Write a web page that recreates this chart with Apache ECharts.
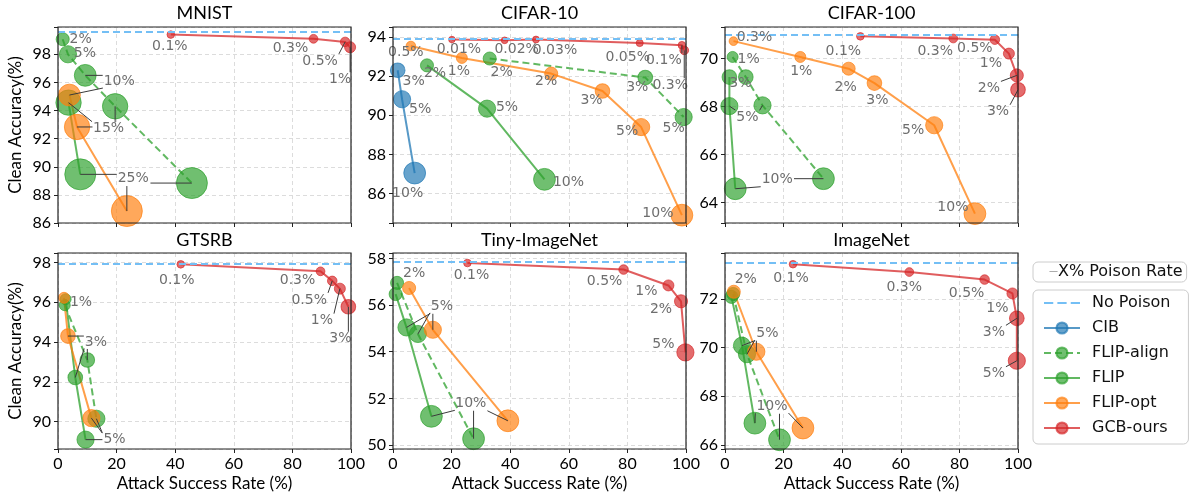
<!DOCTYPE html>
<html>
<head>
<meta charset="utf-8">
<script src="https://cdn.jsdelivr.net/npm/echarts@6/dist/echarts.min.js"></script>
<style>
  html, body { margin: 0; padding: 0; background: #fff; }
  #main { width: 1192px; height: 494px; }
</style>
</head>
<body>
<div id="main"></div>
<script>
const chart = echarts.init(document.getElementById('main'));

const datasets = ['MNIST', 'CIFAR-10', 'CIFAR-100', 'GTSRB', 'Tiny-ImageNet', 'ImageNet'];
const methods = ['CIB', 'FLIP-align', 'FLIP', 'FLIP-opt', 'GCB-ours'];
const noPoison = [99.6, 93.9, 71.0, 97.95, 57.85, 73.5];

// each point: [attack success rate, clean accuracy, poison rate in %]
const mnistAlign = [[1.6, 99.07, 2], [3.4, 98.0, 5], [9.3, 96.5, 10], [19.5, 94.3, 15], [45.7, 88.84, 25]];
const mnistFlip = [[3.6, 94.56, 15], [7.6, 89.46, 25]];
const mnistOpt = [[3.9, 95.1, 10], [6.5, 92.83, 15], [23.5, 86.85, 25]];
const mnistGcb = [[38.5, 99.4, 0.1], [87.2, 99.1, 0.3], [98.0, 98.88, 0.5], [99.7, 98.5, 1]];

const c10Cib = [[1.6, 92.3, 3], [3.1, 90.82, 5], [7.4, 87.05, 10]];
const c10Align = [[33.0, 92.9, 2], [86.1, 91.93, 3], [99.2, 89.91, 5]];
const c10Flip = [[11.6, 92.55, 2], [32.1, 90.34, 5], [51.7, 86.73, 10]];
const c10Opt = [[6.1, 93.54, 0.5], [23.5, 92.93, 1], [54.0, 92.13, 2], [71.5, 91.24, 3], [84.7, 89.4, 5], [98.6, 84.9, 10]];
const c10Gcb = [[20.1, 93.87, 0.01], [38.1, 93.83, 0.02], [48.8, 93.87, 0.03], [84.2, 93.69, 0.05], [98.6, 93.58, 0.1], [99.4, 93.32, 0.3]];

const c100Align = [[2.6, 70.07, 1], [7.1, 69.23, 3], [12.8, 68.05, 5], [33.6, 64.99, 10]];
const c100Flip = [[1.5, 69.23, 3], [1.5, 68.02, 5], [3.5, 64.57, 10]];
const c100Opt = [[2.9, 70.73, 0.3], [25.7, 70.07, 1], [42.2, 69.58, 2], [51.0, 68.98, 3], [71.4, 67.22, 5], [85.3, 63.53, 10]];
const c100Gcb = [[46.2, 70.93, 0.1], [77.9, 70.84, 0.3], [92.1, 70.79, 0.5], [96.9, 70.21, 1], [99.6, 69.3, 2], [100, 68.7, 3]];

const gtAlign = [[2.3, 95.85, 1], [10.0, 93.1, 3], [13.1, 90.15, 5]];
const gtFlip = [[2.6, 96.15, 1], [5.9, 92.22, 3], [9.4, 89.1, 5]];
const gtOpt = [[2.05, 96.22, 1], [3.4, 94.3, 3], [11.4, 90.18, 5]];
const gtGcb = [[41.9, 97.9, 0.1], [89.6, 97.55, 0.3], [93.6, 97.07, 0.5], [96.2, 96.68, 1], [99.1, 95.77, 3]];

const tinyAlign = [[1.4, 56.95, 2], [8.5, 54.76, 5], [27.5, 50.27, 10]];
const tinyFlip = [[0.9, 56.47, 2], [4.6, 55.04, 5], [13.1, 51.23, 10]];
const tinyOpt = [[5.5, 56.73, 2], [13.6, 54.94, 5], [39.2, 51.04, 10]];
const tinyGcb = [[25.4, 57.8, 0.1], [78.7, 57.52, 0.5], [94.0, 56.84, 1], [98.3, 56.16, 2], [99.8, 53.97, 5]];

const inAlign = [[2.8, 72.2, 2], [7.5, 69.73, 5], [18.6, 66.22, 10]];
const inFlip = [[2.2, 72.08, 2], [5.8, 70.08, 5], [10.2, 66.9, 10]];
const inOpt = [[3.0, 72.29, 2], [10.7, 69.83, 5], [26.6, 66.7, 10]];
const inGcb = [[23.2, 73.42, 0.1], [62.9, 73.1, 0.3], [88.6, 72.79, 0.5], [98.1, 72.22, 1], [99.6, 71.2, 3], [99.6, 69.46, 5]];

const yMin = [86, 84.5, 63.14, 88.63, 49.83, 65.84];
const yMax = [99.94, 94.51, 71.32, 98.47, 58.23, 73.88];

const panels = [
  { 'FLIP-align': mnistAlign, 'FLIP': mnistFlip, 'FLIP-opt': mnistOpt, 'GCB-ours': mnistGcb },
  { 'CIB': c10Cib, 'FLIP-align': c10Align, 'FLIP': c10Flip, 'FLIP-opt': c10Opt, 'GCB-ours': c10Gcb },
  { 'FLIP-align': c100Align, 'FLIP': c100Flip, 'FLIP-opt': c100Opt, 'GCB-ours': c100Gcb },
  { 'FLIP-align': gtAlign, 'FLIP': gtFlip, 'FLIP-opt': gtOpt, 'GCB-ours': gtGcb },
  { 'FLIP-align': tinyAlign, 'FLIP': tinyFlip, 'FLIP-opt': tinyOpt, 'GCB-ours': tinyGcb },
  { 'FLIP-align': inAlign, 'FLIP': inFlip, 'FLIP-opt': inOpt, 'GCB-ours': inGcb }
];

// label placement per point: [dx px, dy px, draw text, draw leader line]
const labelSpots = [
  {
    'FLIP-align': [[18, 0, 1, 0], [17, -1, 1, 0], [34, 6, 1, 1], [-7, 23, 0, 1], [-58, -4, 0, 1]],
    'FLIP': [[40, 26, 1, 1], [53, 4, 1, 1]],
    'FLIP-opt': [[50, -14, 0, 1], [32, 2, 0, 1], [7, -32, 0, 1]],
    'GCB-ours': [[-1, 12, 1, 0], [-23, 10, 1, 0], [-25, 19, 1, 1], [-10, 32, 1, 1]]
  },
  {
    'CIB': [[16, 11, 1, 0], [18, 10, 1, 0], [-7, 20, 1, 0]],
    'FLIP-align': [[12, 14, 1, 0], [-8, 10, 1, 0], [-10, 11, 1, 0]],
    'FLIP': [[8, 8, 1, 0], [20, -1, 1, 0], [24, 3, 1, 0]],
    'FLIP-opt': [[-5, 6, 1, 0], [-3, 13, 1, 0], [-5, 8, 1, 0], [-11, 9, 1, 0], [-14, 4, 1, 0], [-24, -2, 1, 0]],
    'GCB-ours': [[7, 10, 1, 0], [12, 9, 1, 0], [19, 11, 1, 0], [-12, 14, 1, 0], [-18, 15, 1, 1], [-14, 35, 1, 1]]
  },
  {
    'FLIP-align': [[16, 2, 1, 0], [-6, 6, 0, 0], [-15, 12, 0, 1], [-46, 1, 0, 1]],
    'FLIP': [[11, 6, 1, 0], [18, 11, 1, 1], [42, -9, 1, 1]],
    'FLIP-opt': [[21, -4, 1, 0], [1, 14, 1, 0], [-3, 19, 1, 0], [3, 17, 1, 0], [-21, 5, 1, 0], [-22, -6, 1, 0]],
    'GCB-ours': [[-17, 15, 1, 0], [-18, 13, 1, 0], [-20, 9, 1, 0], [-18, 10, 1, 0], [-28, 13, 1, 1], [-20, 22, 1, 1]]
  },
  {
    'FLIP-align': [null, [9, -18, 0, 1], [18, 21, 0, 1]],
    'FLIP': [null, [21, -36, 0, 1], [29, 0, 1, 1]],
    'FLIP-opt': [[17, 5, 1, 0], [28, 6, 1, 1], [23, 22, 0, 1]],
    'GCB-ours': [[-4, 16, 1, 0], [-23, 9, 1, 0], [-23, 19, 1, 1], [-18, 32, 1, 1], [-8, 32, 1, 1]]
  },
  {
    'FLIP-align': [null, [24, -28, 0, 1], [-2, -35, 0, 1]],
    'FLIP': [null, [36, -21, 0, 1], [40, -13, 0, 1]],
    'FLIP-opt': [[5, -15, 1, 0], [9, -23, 1, 1], [-37, -17, 1, 1]],
    'GCB-ours': [[4, 12, 1, 0], [-19, 12, 1, 0], [-22, 6, 1, 0], [-20, 8, 1, 0], [-22, -8, 1, 0]]
  },
  {
    'FLIP-align': [null, [20, -21, 0, 1], [-7, -33, 0, 1]],
    'FLIP': [null, [25, -12, 0, 1], [17, -17, 0, 1]],
    'FLIP-opt': [[12, -12, 1, 0], [11, -18, 1, 1], [-31, -22, 1, 1]],
    'GCB-ours': [[-2, 14, 1, 0], [-5, 15, 1, 0], [-18, 14, 1, 0], [-15, 15, 1, 0], [-23, 14, 1, 1], [-23, 13, 1, 1]]
  }
];

const colors = { 'CIB': '#1f77b4', 'FLIP-align': '#2ca02c', 'FLIP': '#2ca02c', 'FLIP-opt': '#ff7f0e', 'GCB-ours': '#d62728' };
const npColor = '#74bff5';
const gridLeft = [58, 393, 725, 58, 393, 725];
const gridTop = [27, 27, 27, 253, 253, 253];
const gridW = 293, gridH = 196;
const axisFont = 'Lato';
const labelFont = '14px "DejaVu Sans"';

const measureCtx = document.createElement('canvas').getContext('2d');
measureCtx.font = labelFont;
const textWidth = (s) => measureCtx.measureText(s).width;

const isTick = (v) => Math.abs(v / 2 - Math.round(v / 2)) < 1e-6;

annotationSeries = (i) => {
  const items = [];
  methods.forEach((m) => {
    const pts = panels[i][m];
    const spots = labelSpots[i][m];
    if (!pts || !spots) return;
    pts.forEach((p, k) => {
      if (spots[k]) items.push({ value: [p[0], p[1]], text: p[2] + '%', spot: spots[k] });
    });
  });
  return {
    type: 'custom',
    xAxisIndex: i,
    yAxisIndex: i,
    silent: true,
    z: 10,
    data: items.map((a) => a.value),
    renderItem: (params, api) => {
      const a = items[params.dataIndex];
      const p = api.coord([api.value(0), api.value(1)]);
      const cx = p[0] + a.spot[0];
      const cy = p[1] + a.spot[1];
      const w = textWidth(a.text) / 2 + 1;
      const h = 7;
      const children = [];
      if (a.spot[3]) {
        const ex = Math.min(Math.max(p[0], cx - w), cx + w);
        const ey = Math.min(Math.max(p[1], cy - h), cy + h);
        children.push({
          type: 'line',
          shape: { x1: p[0], y1: p[1], x2: ex, y2: ey },
          style: { stroke: '#3a3a3a', lineWidth: 1 }
        });
      }
      if (a.spot[2]) {
        children.push({
          type: 'text',
          x: cx,
          y: cy,
          style: {
            text: a.text, fill: '#6e6e6e', font: labelFont,
            align: 'center', verticalAlign: 'middle',
            textAlign: 'center', textVerticalAlign: 'middle'
          }
        });
      }
      return { type: 'group', children };
    }
  };
}

const grids = [], xAxes = [], yAxes = [], titles = [], series = [], frames = [];

datasets.forEach((name, i) => {
  grids.push({ left: gridLeft[i], top: gridTop[i], width: gridW, height: gridH });
  // axes frame drawn above the grid lines
  frames.push({
    type: 'rect', z: 100, silent: true,
    shape: { x: gridLeft[i], y: gridTop[i], width: gridW, height: gridH },
    style: { fill: 'none', stroke: '#222', lineWidth: 1.2 }
  });
  titles.push({
    text: name,
    left: gridLeft[i] + gridW / 2,
    top: i < 3 ? 4 : 231,
    textAlign: 'center',
    padding: 0,
    textStyle: { fontFamily: axisFont, fontSize: 18, fontWeight: 'normal', color: '#000' }
  });
  xAxes.push({
    type: 'value', gridIndex: i, min: 0, max: 100, interval: 20,
    axisLine: { show: false },
    axisTick: { show: true, length: 4, lineStyle: { color: '#222' } },
    axisLabel: { show: i >= 3, fontFamily: axisFont, fontSize: 16, color: '#000', margin: 7 },
    splitLine: { show: true, lineStyle: { color: '#dcdcdc', type: [4, 3] } },
    name: i >= 3 ? 'Attack Success Rate (%)' : '',
    nameLocation: 'middle', nameGap: 26,
    nameTextStyle: { fontFamily: axisFont, fontSize: 17, color: '#000' }
  });
  yAxes.push({
    type: 'value', gridIndex: i, min: yMin[i], max: yMax[i],
    minInterval: 2, maxInterval: 2, splitNumber: 5,
    axisLine: { show: false },
    axisTick: { show: true, length: 4, lineStyle: { color: '#222' } },
    axisLabel: {
      fontFamily: axisFont, fontSize: 16, color: '#000', margin: 7,
      formatter: (v) => isTick(v) ? String(Math.round(v)) : ''
    },
    splitLine: { show: true, lineStyle: { color: '#dcdcdc', type: [4, 3] } },
    name: (i % 3 === 0) ? 'Clean Accuracy(%)' : '',
    nameLocation: 'middle', nameGap: 34,
    nameTextStyle: { fontFamily: axisFont, fontSize: 17, color: '#000' }
  });

  series.push({
    type: 'line', name: 'No Poison', xAxisIndex: i, yAxisIndex: i,
    data: [], symbol: 'none', z: 1,
    itemStyle: { color: npColor },
    lineStyle: { color: npColor, width: 2, type: [7, 4] },
    markLine: {
      silent: true, symbol: 'none', label: { show: false },
      lineStyle: { color: npColor, width: 2, type: [7, 4] },
      data: [{ yAxis: noPoison[i] }]
    }
  });

  methods.forEach((m) => {
    const pts = panels[i][m];
    if (!pts) return;
    series.push({
      type: 'line', name: m, xAxisIndex: i, yAxisIndex: i,
      data: pts,
      symbol: 'circle',
      symbolSize: (v) => 6 + 5 * Math.sqrt(v[2]),
      z: 2,
      emphasis: { disabled: true },
      lineStyle: { color: colors[m], width: 2, opacity: 0.75, type: m === 'FLIP-align' ? [7, 4] : 'solid' },
      itemStyle: { color: colors[m], opacity: 0.68, borderColor: colors[m], borderWidth: 1 }
    });
  });

  series.push(annotationSeries(i));
});

series.push({
  type: 'line', name: 'X% Poison Rate', xAxisIndex: 0, yAxisIndex: 0,
  data: [], itemStyle: { color: '#7f7f7f' }, lineStyle: { color: '#7f7f7f' }
});

chart.setOption({
  animation: false,
  backgroundColor: '#fff',
  title: titles,
  grid: grids,
  xAxis: xAxes,
  yAxis: yAxes,
  graphic: frames,
  legend: [
    {
      data: [{ name: 'X% Poison Rate', icon: 'none' }],
      selectedMode: false,
      left: 1033, top: 262,
      itemWidth: 1, itemHeight: 14,
      padding: [2, 4, 2, 10],
      borderColor: '#cccccc', borderWidth: 1, borderRadius: 5,
      formatter: () => '{d|\u2014}X% Poison Rate',
      textStyle: {
        fontFamily: 'DejaVu Sans', fontSize: 16, color: '#111',
        rich: { d: { fontFamily: 'DejaVu Sans', fontSize: 9, color: '#7f7f7f' } }
      }
    },
    {
      data: [
        { name: 'No Poison', icon: 'path://M0,0h9v2h-9z M13,0h9v2h-9z M26,0h9v2h-9z' },
        'CIB', 'FLIP-align', 'FLIP', 'FLIP-opt', 'GCB-ours'
      ],
      selectedMode: false,
      orient: 'vertical',
      left: 1033, top: 290,
      itemWidth: 36, itemHeight: 14, itemGap: 9,
      padding: [5, 18, 8, 10],
      borderColor: '#cccccc', borderWidth: 1, borderRadius: 5,
      textStyle: { fontFamily: 'DejaVu Sans', fontSize: 16, color: '#111', padding: [0, 0, 0, 7] }
    }
  ],
  series: series
});

window.addEventListener('resize', () => {
  chart.resize();
});
</script>
</body>
</html>
